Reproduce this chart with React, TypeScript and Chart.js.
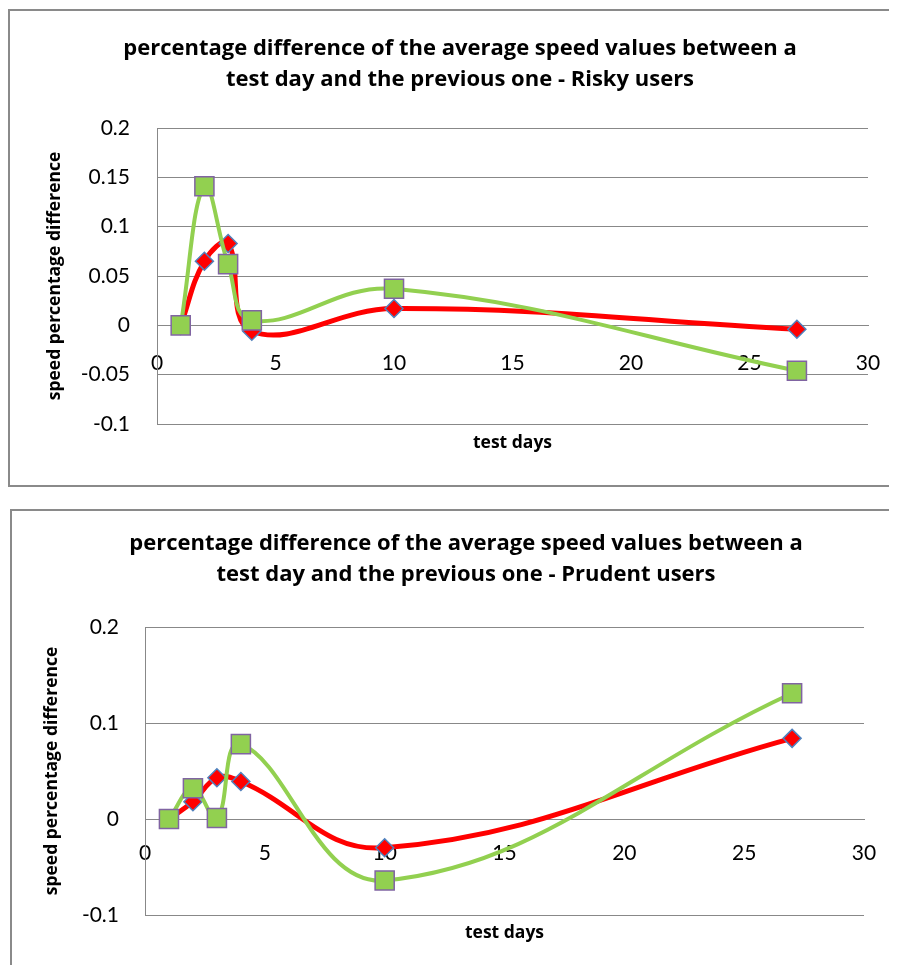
import React, { useEffect, useRef } from 'react';
import { Chart, registerables } from 'chart.js';
Chart.register(...registerables);

// ---- data ----
const testDays = [1, 2, 3, 4, 10, 27];
const riskyRed = [0, 0.065, 0.083, -0.006, 0.017, -0.004];
const riskyGreen = [0, 0.141, 0.062, 0.005, 0.037, -0.046];
const prudentRed = [0, 0.018, 0.043, 0.039, -0.03, 0.084];
const prudentGreen = [0, 0.032, 0.001, 0.078, -0.064, 0.131];
const riskyYTicks = [-0.1, -0.05, 0, 0.05, 0.1, 0.15, 0.2];
const prudentYTicks = [-0.1, 0, 0.1, 0.2];
const xTicks = [0, 5, 10, 15, 20, 25, 30];
const riskyTitle = ['percentage difference of the average speed values between a', 'test day and the previous one - Risky users'];
const prudentTitle = ['percentage difference of the average speed values between a', 'test day and the previous one - Prudent users'];
const yAxisTitle = 'speed percentage difference';
const xAxisTitle = 'test days';

const TICK_FONT = "Lato, 'Open Sans', sans-serif";
const BOLD_FONT = "'Open Sans', Lato, sans-serif";
const GRID = '#888888';

const xTitlePlugin = {
  id: 'xTitleCustom',
  afterDraw(chart: any, _args: any, opts: any) {
    const { ctx, chartArea } = chart;
    ctx.save();
    ctx.font = `bold ${opts.size}px ${BOLD_FONT}`;
    ctx.fillStyle = '#000';
    ctx.textAlign = 'center';
    ctx.textBaseline = 'middle';
    ctx.fillText(opts.text, (chartArea.left + chartArea.right) / 2, opts.y);
    ctx.restore();
  },
};

type PanelProps = {
  red: number[];
  green: number[];
  yTicks: number[];
  title: string[];
  width: number;
  height: number;
  pad: { left: number; right: number; top: number; bottom: number };
  yWidth: number;
  yTickPad: number;
  yTitlePad: number;
  titlePad: { top: number; bottom: number };
  xTickOffset: number;
  xTitleY: number;
};

function Panel(p: PanelProps) {
  const ref = useRef<HTMLCanvasElement | null>(null);
  useEffect(() => {
    if (!ref.current) return;
    const pts = (vals: number[]) => testDays.map((d, i) => ({ x: d, y: vals[i] }));
    const chart = new Chart(ref.current, {
      type: 'scatter',
      data: {
        datasets: [
          {
            label: 'green series',
            data: pts(p.green),
            showLine: true,
            borderColor: '#92D050',
            borderWidth: 4,
            tension: 0.4,
            pointStyle: 'rect',
            pointRadius: 13.5,
            pointHoverRadius: 13.5,
            pointBackgroundColor: '#92D050',
            pointBorderColor: '#8064A2',
            pointBorderWidth: 1.5,
            order: 0,
          },
          {
            label: 'red series',
            data: pts(p.red),
            showLine: true,
            borderColor: '#FF0000',
            borderWidth: 5,
            tension: 0.4,
            pointStyle: 'rectRot',
            pointRadius: 9,
            pointHoverRadius: 9,
            pointBackgroundColor: '#FF0000',
            pointBorderColor: '#4F81BD',
            pointBorderWidth: 1.5,
            order: 1,
          },
        ],
      } as any,
      options: {
        animation: false,
        responsive: false,
        layout: { padding: p.pad },
        plugins: {
          legend: { display: false },
          tooltip: { enabled: false },
          title: {
            display: true,
            text: p.title,
            color: '#000',
            font: { family: BOLD_FONT, size: 22, weight: 'bold', lineHeight: 31 / 22 },
            padding: p.titlePad,
          },
          xTitleCustom: { text: xAxisTitle, y: p.xTitleY, size: 17.5 },
        } as any,
        scales: {
          x: {
            type: 'linear',
            position: { y: 0 } as any,
            min: 0,
            max: 30,
            afterBuildTicks: (s: any) => { s.ticks = xTicks.map((v) => ({ value: v })); },
            ticks: {
              color: '#000',
              font: { family: TICK_FONT, size: 21, lineHeight: (2 * p.xTickOffset) / 21 },
              padding: 0,
              maxRotation: 0,
            },
            grid: { display: false, drawTicks: false },
            border: { display: true, color: GRID, width: 1 },
          },
          y: {
            type: 'linear',
            min: -0.1,
            max: 0.2,
            afterBuildTicks: (s: any) => { s.ticks = p.yTicks.map((v) => ({ value: v })); },
            afterFit: (s: any) => { s.width = p.yWidth; },
            ticks: {
              color: '#000',
              font: { family: TICK_FONT, size: 21 },
              padding: p.yTickPad,
              callback: (v: any) => String(Math.round(Number(v) * 1000) / 1000),
            },
            grid: { color: GRID, lineWidth: 1, drawTicks: false },
            border: { display: true, color: GRID, width: 1 },
            title: {
              display: true,
              text: yAxisTitle,
              color: '#000',
              font: { family: BOLD_FONT, size: 17.5, weight: 'bold', lineHeight: 1.2 },
              padding: { top: p.yTitlePad, bottom: 0 },
            },
          },
        },
      } as any,
      plugins: [xTitlePlugin],
    });
    return () => chart.destroy();
  }, []);
  return <canvas ref={ref} width={p.width} height={p.height} style={{ display: 'block', width: p.width, height: p.height }} />;
}

export default function App() {
  const border = '2px solid #8a8a8a';
  return (
    <div style={{ position: 'relative', margin: -8, width: 897, height: 973, overflow: 'hidden', background: '#fff' }}>
      <div style={{ position: 'absolute', left: 8, top: 9, width: 889, height: 478, boxSizing: 'border-box', borderLeft: border, borderTop: border, borderBottom: border, background: '#fff' }}>
        <Panel
          red={riskyRed}
          green={riskyGreen}
          yTicks={riskyYTicks}
          title={riskyTitle}
          width={887}
          height={474}
          pad={{ left: 42, right: 29, top: 0, bottom: 61 }}
          yWidth={105}
          yTickPad={27}
          yTitlePad={-7}
          titlePad={{ top: 22, bottom: 33 }}
          xTickOffset={37.5}
          xTitleY={432}
        />
      </div>
      <div style={{ position: 'absolute', left: 10, top: 509, width: 887, height: 464, boxSizing: 'border-box', borderLeft: border, borderTop: border, background: '#fff' }}>
        <Panel
          red={prudentRed}
          green={prudentGreen}
          yTicks={prudentYTicks}
          title={prudentTitle}
          width={885}
          height={462}
          pad={{ left: 56, right: 33, top: 0, bottom: 58 }}
          yWidth={77}
          yTickPad={26}
          yTitlePad={-26}
          titlePad={{ top: 17, bottom: 37 }}
          xTickOffset={34.5}
          xTitleY={422}
        />
      </div>
    </div>
  );
}
